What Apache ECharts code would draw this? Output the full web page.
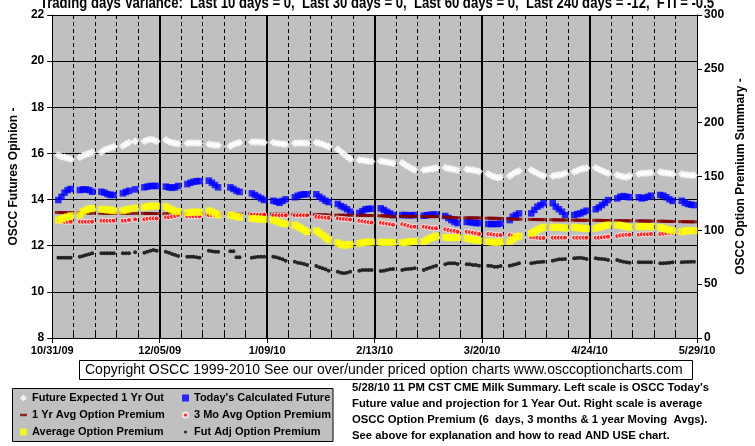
<!DOCTYPE html>
<html><head><meta charset="utf-8">
<script src="https://cdn.jsdelivr.net/npm/echarts@6/dist/echarts.min.js"></script>
<style>html,body{margin:0;padding:0;background:#fff}#c{width:755px;height:446px}</style>
</head><body><div id="c"></div>
<script>
// ---- data ----
const startDate = '2009-10-31';
const firstTradingDay = '2009-11-02';
const lastTradingDay = '2010-05-28';
const holidays = ['2009-11-26','2009-12-25','2010-01-01','2010-04-02'];
const tickLabels = ['10/31/09','12/05/09','1/09/10','2/13/10','3/20/10','4/24/10','5/29/10'];
const titleText = 'Trading days Variance:  Last 10 days = 0,  Last 30 days = 0,  Last 60 days = 0,  Last 240 days = -12,  FTI = -0.5';
const seriesNames = ['Future Expected 1 Yr Out',"Today's Calculated Future",'1 Yr Avg Option Premium','3 Mo Avg Option Premium','Average Option Premium','Fut Adj Option Premium'];

const futureExpected = [
15.93,15.86,15.83,15.79,15.76,
15.83,15.90,15.96,16.00,16.05,
16.05,16.15,16.20,16.25,16.29,
16.32,16.41,16.47,16.53,
16.53,16.58,16.61,16.58,16.53,
16.58,16.51,16.47,16.44,16.42,
16.44,16.45,16.45,16.45,16.44,
16.41,16.38,16.35,16.35,
16.32,16.39,16.44,16.47,
16.50,16.50,16.49,16.48,16.47,
16.47,16.44,16.43,16.41,16.40,
16.44,16.45,16.45,16.44,16.44,
16.47,16.44,16.40,16.34,16.29,
16.18,16.07,15.97,15.86,15.76,
15.72,15.70,15.68,15.66,15.65,
15.67,15.64,15.63,15.60,15.57,
15.60,15.50,15.42,15.35,15.28,
15.28,15.29,15.32,15.34,15.37,
15.38,15.35,15.32,15.29,15.27,
15.31,15.29,15.28,15.25,15.22,
15.11,15.03,14.99,14.95,14.97,
15.02,15.11,15.19,15.24,
15.28,15.21,15.14,15.06,15.02,
15.02,15.05,15.06,15.09,15.14,
15.21,15.25,15.31,15.35,15.37,
15.38,15.31,15.25,15.19,15.14,
15.06,15.02,14.99,14.97,15.02,
15.11,15.14,15.14,15.15,15.16,
15.19,15.16,15.15,15.14,15.11,
15.11,15.08,15.06,15.05,15.05];

const todaysFuture = [
13.98,14.12,14.30,14.41,14.46,
14.41,14.44,14.44,14.41,14.34,
14.34,14.30,14.24,14.20,14.20,
14.27,14.33,14.38,14.44,
14.53,14.56,14.59,14.59,14.59,
14.56,14.53,14.51,14.53,14.59,
14.67,14.73,14.77,14.80,14.80,
14.82,14.73,14.63,14.53,
14.53,14.46,14.38,14.33,
14.27,14.20,14.12,14.05,13.98,
13.95,13.91,13.86,13.94,14.01,
14.10,14.17,14.21,14.23,14.23,
14.23,14.12,14.04,13.95,13.89,
13.81,13.72,13.66,13.58,13.47,
13.42,13.50,13.58,13.60,13.60,
13.62,13.55,13.47,13.40,13.33,
13.33,13.33,13.32,13.32,13.33,
13.30,13.32,13.34,13.35,13.35,
13.29,13.20,13.11,13.03,12.98,
13.03,13.03,13.00,12.98,12.98,
12.94,12.94,12.94,12.94,12.96,
13.11,13.26,13.33,13.40,
13.40,13.55,13.69,13.76,13.84,
13.84,13.69,13.58,13.47,13.33,
13.33,13.37,13.40,13.46,13.52,
13.58,13.66,13.76,13.86,13.98,
14.05,14.12,14.15,14.12,14.10,
14.10,14.05,14.08,14.12,14.17,
14.20,14.17,14.10,14.01,13.94,
13.95,13.86,13.81,13.78,13.76];

const oneYrAvg = [
116.6,116.5,116.4,116.4,116.4,
116.4,116.3,116.2,116.1,116.0,
115.9,115.9,115.8,115.8,115.8,
115.8,115.8,115.7,115.7,
115.7,115.6,115.6,115.5,115.5,
115.4,115.4,115.3,115.3,115.2,
115.2,115.2,115.2,115.2,115.2,
115.2,115.2,115.2,115.2,
115.2,115.2,115.2,115.2,
115.2,115.2,115.2,115.1,115.1,
115.1,115.1,115.0,115.0,115.0,
114.9,114.9,114.8,114.7,114.6,
114.6,114.5,114.4,114.3,114.2,
114.1,114.0,114.0,113.9,113.9,
113.9,113.9,113.9,113.8,113.8,
113.6,113.4,113.2,112.9,112.6,
113.0,113.0,113.0,113.0,112.9,
112.9,112.9,112.8,112.8,112.7,
112.4,112.2,112.0,111.8,111.7,
111.7,111.6,111.6,111.5,111.5,
111.3,111.2,111.2,111.1,111.0,
110.6,110.5,110.4,110.3,
110.1,110.0,110.0,109.9,109.9,
109.8,109.7,109.7,109.6,109.6,
109.5,109.4,109.4,109.3,109.3,
109.3,109.2,109.2,109.1,109.1,
109.0,109.0,108.9,108.9,108.8,
108.8,108.7,108.7,108.6,108.6,
108.5,108.4,108.3,108.3,108.2,
108.1,108.0,108.0,107.9,107.9];

const threeMoAvg = [
109.0,108.5,108.0,108.0,108.0,
108.0,108.0,108.0,108.0,108.0,
109.0,109.0,109.0,109.0,109.0,
109.0,109.0,109.6,110.2,
110.2,110.8,111.1,111.1,111.1,
112.1,112.1,112.7,113.3,114.2,
113.0,113.0,113.0,113.0,113.0,
114.0,114.0,114.0,114.0,
114.0,114.0,114.0,114.0,
114.5,114.5,114.5,114.5,114.5,
113.9,113.9,113.9,113.9,113.9,
113.9,113.9,113.9,113.9,113.9,
112.5,112.2,112.0,111.7,111.5,
111.1,110.8,110.5,110.2,110.0,
108.8,108.4,108.0,107.6,107.2,
107.0,106.6,106.2,105.7,105.2,
105.6,105.0,104.0,103.4,103.4,
103.4,102.8,102.4,101.9,101.9,
101.0,100.3,99.7,99.4,98.7,
98.7,98.2,97.8,97.2,96.6,
96.6,96.3,95.9,95.6,95.6,
95.6,95.0,94.4,94.1,
93.5,93.5,93.2,92.9,92.9,
93.2,93.2,93.2,93.2,93.2,
93.2,93.2,93.2,93.2,93.2,
93.2,93.2,93.5,93.8,94.1,
94.7,95.3,95.6,95.9,95.9,
95.9,96.3,96.3,96.3,96.6,
96.6,96.9,97.2,97.5,97.8,
98.4,98.7,98.7,99.0,99.4];

const avgPremium = [
109.6,110.6,111.6,112.6,113.6,
114.2,117.3,118.9,119.8,120.4,
119.5,119.5,118.9,118.9,118.2,
118.2,118.9,119.8,120.7,
121.4,122.0,122.6,122.6,122.6,
122.0,120.4,118.9,117.9,117.3,
116.4,116.7,117.0,117.0,116.7,
118.2,117.0,115.8,114.2,
114.2,113.6,112.7,112.1,
111.1,110.8,110.5,110.2,110.2,
109.6,108.7,107.5,106.5,105.9,
105.0,103.4,101.9,100.3,98.7,
99.7,97.8,95.7,93.5,91.0,
88.5,87.0,86.1,86.4,87.0,
87.9,88.5,88.9,89.2,89.2,
88.9,88.9,88.9,88.9,88.9,
88.5,88.9,89.2,89.5,89.8,
89.5,91.0,92.6,93.5,94.7,
93.5,93.2,93.2,93.2,93.2,
92.6,91.9,91.7,91.0,90.4,
89.5,89.2,88.9,88.9,89.2,
89.5,91.7,93.5,94.7,
97.2,98.7,100.3,101.9,102.8,
102.8,102.8,102.8,102.5,102.1,
102.8,102.5,102.1,101.9,101.5,
101.9,102.8,103.4,104.3,105.0,
105.0,104.6,104.0,103.4,102.8,
103.4,103.4,103.4,103.4,103.4,
102.8,101.9,101.0,100.3,99.7,
98.7,99.4,99.7,99.7,99.7];

const futAdjPremium = [
74.6,74.6,74.6,74.6,74.6,
75.5,76.2,77.1,77.7,78.7,
78.6,78.6,78.6,78.6,78.6,
78.6,78.6,78.6,79.6,
79.2,80.2,81.1,81.7,81.1,
80.2,79.2,78.0,77.1,76.2,
75.5,75.5,75.5,74.9,74.6,
81.1,80.5,80.2,80.2,
80.5,80.5,74.9,74.9,
74.6,74.9,75.5,75.5,75.5,
75.5,74.9,74.0,73.1,71.8,
70.9,69.9,69.4,68.7,67.8,
66.9,65.7,64.7,63.8,62.5,
61.6,60.7,60.1,60.7,61.6,
62.5,63.2,63.2,63.2,63.2,
62.2,62.5,63.2,63.8,64.1,
63.2,63.8,64.1,64.4,64.7,
63.2,64.4,65.3,66.2,67.2,
68.4,69.4,69.4,69.4,68.7,
68.4,68.4,67.8,67.8,67.2,
67.2,66.9,66.2,66.2,66.9,
67.2,67.8,68.4,69.4,
69.4,69.9,70.3,70.6,70.9,
71.8,72.4,73.1,73.1,73.4,
74.0,74.3,74.6,74.0,73.4,
74.0,73.7,73.4,73.1,72.4,
72.4,71.5,70.9,70.3,69.9,
70.3,70.3,70.3,70.3,70.3,
69.4,69.4,69.6,69.9,70.3,
70.3,70.6,70.6,70.9,70.9];

const noteLines = [
"5/28/10 11 PM CST CME Milk Summary. Left scale is OSCC Today's",
"Future value and projection for 1 Year Out. Right scale is average",
"OSCC Option Premium (6  days, 3 months & 1 year Moving  Avgs).",
"See above for explanation and how to read AND USE chart."];
const copyrightText = 'Copyright OSCC 1999-2010 See our over/under priced option charts www.osccoptioncharts.com';

// ---- trading days (x = days since start) ----
const DAY = 864e5;
const t0 = Date.parse(startDate + 'T00:00:00Z');
const tradingDays = [];
for (let t = Date.parse(firstTradingDay + 'T00:00:00Z'); t <= Date.parse(lastTradingDay + 'T00:00:00Z'); t += DAY) {
  const d = new Date(t), wd = d.getUTCDay();
  const iso = d.toISOString().slice(0, 10);
  if (wd === 0 || wd === 6 || holidays.includes(iso)) continue;
  tradingDays.push(Math.round((t - t0) / DAY));
}
const pts = vals => tradingDays.map((x, i) => [x, vals[i]]);

const SANS = "'Liberation Sans',Arial,sans-serif";
const dotIcon = r => `path://M0,0M7,7M${3.5 - r},3.5a${r},${r} 0 1,0 ${2 * r},0a${r},${r} 0 1,0 ${-2 * r},0Z`;

const chart = echarts.init(document.getElementById('c'), null, {renderer: 'canvas'});
const legendText = {fontWeight: 'bold', fontSize: 11, fontFamily: SANS, color: '#000', lineHeight: 12};
const tickFont = {color: '#000', fontWeight: 'bold', fontSize: 11, fontFamily: SANS};
const yTickFont = {color: '#000', fontWeight: 'bold', fontSize: 12, fontFamily: SANS};
chart.setOption({
  animation: false,
  backgroundColor: '#fff',
  grid: {left: 45, right: 53, top: 15, bottom: 108, show: true, backgroundColor: '#c0c0c0', borderWidth: 0},
  xAxis: [{
    type: 'value', min: 0, max: 210, interval: 35, position: 'bottom',
    axisLine: {onZero: false, lineStyle: {color: '#000', width: 1}},
    axisTick: {show: true, length: 5, lineStyle: {color: '#000'}},
    axisLabel: Object.assign({formatter: v => tickLabels[Math.round(v / 35)], margin: 7}, tickFont),
    splitLine: {show: true, showMinLine: false, showMaxLine: false, lineStyle: {color: '#000', width: 2}}
  }, {
    type: 'value', min: 0, max: 210, interval: 7, position: 'bottom',
    axisLine: {show: false, onZero: false},
    axisTick: {show: true, inside: true, length: 4, lineStyle: {color: '#000'}},
    axisLabel: {show: false},
    splitLine: {show: true, showMinLine: false, showMaxLine: false, lineStyle: {color: '#000', width: 1, type: [4, 3]}}
  }],
  yAxis: [{
    type: 'value', min: 8, max: 22, interval: 2, position: 'left',
    axisLine: {show: true, onZero: false, lineStyle: {color: '#000'}},
    axisTick: {show: true, length: 5, lineStyle: {color: '#000'}},
    axisLabel: Object.assign({margin: 8}, yTickFont),
    splitLine: {show: true, lineStyle: {color: '#000', width: 1}},
    name: 'OSCC Futures Opinion -', nameLocation: 'middle', nameGap: 22,
    nameTextStyle: {fontWeight: 'bold', fontSize: 12, fontFamily: SANS, color: '#000'}
  }, {
    type: 'value', min: 0, max: 300, interval: 50, position: 'right',
    axisLine: {show: true, onZero: false, lineStyle: {color: '#000'}},
    axisTick: {show: true, length: 5, lineStyle: {color: '#000'}},
    axisLabel: Object.assign({margin: 7}, yTickFont),
    splitLine: {show: false},
    name: 'OSCC Option Premium Summary -', nameLocation: 'middle', nameGap: 34,
    nameTextStyle: {fontWeight: 'bold', fontSize: 12, fontFamily: SANS, color: '#000'}
  }],
  legend: [{
    left: 20, top: 392, orient: 'vertical', itemWidth: 7, itemHeight: 7, itemGap: 5, padding: 0, z: 10,
    selectedMode: false, textStyle: legendText,
    data: [{name: seriesNames[0], icon: 'diamond'}, {name: seriesNames[2], icon: 'path://M0,0H7V2.5H0Z'}, {name: seriesNames[4], icon: 'rect'}]
  }, {
    left: 181, top: 392, orient: 'vertical', itemWidth: 7, itemHeight: 7, itemGap: 5, padding: 0, z: 10,
    selectedMode: false, textStyle: legendText,
    data: [{name: seriesNames[1], icon: 'rect'}, {name: seriesNames[3], icon: dotIcon(2.5)}, {name: seriesNames[5], icon: dotIcon(1.5)}]
  }],
  graphic: [
    {type: 'rect', z: 1, shape: {x: 12.5, y: 388.5, width: 320.5, height: 53}, style: {fill: '#c0c0c0', stroke: '#000', lineWidth: 1}},
    {type: 'rect', z: 1, shape: {x: 79.5, y: 360.5, width: 613, height: 19}, style: {fill: '#fff', stroke: '#000', lineWidth: 1}},
    {type: 'text', z: 2, x: 85, y: 370, style: {text: copyrightText, font: '14px ' + SANS, fill: '#000', verticalAlign: 'middle', textVerticalAlign: 'middle'}},
    {type: 'text', z: 2, x: 377, y: 12, scaleX: 0.82, style: {text: titleText, font: 'bold 16px ' + SANS, fill: '#000', align: 'center', textAlign: 'center', verticalAlign: 'bottom', textVerticalAlign: 'bottom'}},
    {type: 'text', z: 2, x: 352, y: 380, style: {text: noteLines.join('\n'), font: 'bold 11.3px ' + SANS, lineHeight: 16, fill: '#000'}}
  ],
  series: [
    {name: seriesNames[0], type: 'scatter', yAxisIndex: 0, data: pts(futureExpected), symbol: 'diamond', symbolSize: 8, itemStyle: {color: '#ffffff'}, silent: true},
    {name: seriesNames[1], type: 'scatter', yAxisIndex: 0, data: pts(todaysFuture), symbol: 'rect', symbolSize: 6.5, itemStyle: {color: '#0000ff'}, silent: true},
    {name: seriesNames[2], type: 'scatter', yAxisIndex: 1, data: pts(oneYrAvg), symbol: 'rect', symbolSize: [7, 3], itemStyle: {color: '#800000'}, silent: true},
    {name: seriesNames[3], type: 'scatter', yAxisIndex: 1, data: pts(threeMoAvg), symbol: 'circle', symbolSize: 5, itemStyle: {color: '#ff0000', borderColor: '#ffffff', borderWidth: 1}, silent: true},
    {name: seriesNames[4], type: 'scatter', yAxisIndex: 1, data: pts(avgPremium), symbol: 'rect', symbolSize: 7, itemStyle: {color: '#ffff00'}, silent: true},
    {name: seriesNames[5], type: 'scatter', yAxisIndex: 1, data: pts(futAdjPremium), symbol: 'circle', symbolSize: 4, itemStyle: {color: '#000000'}, silent: true}
  ]
});
</script></body></html>
